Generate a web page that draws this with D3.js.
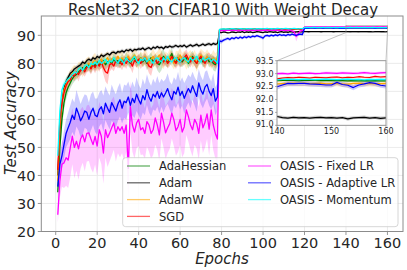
<!DOCTYPE html>
<html>
<head>
<meta charset="utf-8">
<script src="https://cdn.jsdelivr.net/npm/d3@7"></script>
<style>
body { margin: 0; background: #fff; }
svg { display: block; }
text { font-family: "DejaVu Sans", sans-serif; fill: #262626; }
</style>
</head>
<body>
<svg id="chart" width="407" height="270"></svg>
<script>
// epochs 1-78 (before first LR drop), 79-119, 120-160
var phaseStart = [1, 79, 120];
var xTicks = [0, 20, 40, 60, 80, 100, 120, 140, 160];
var yTicks = [20, 30, 40, 50, 60, 70, 80, 90];
var insetXTicks = [140, 150, 160];
var insetYTicks = [91.0, 91.5, 92.0, 92.5, 93.0, 93.5];

// AdaHessian
var adahessianP1 = [34, 50, 60, 66, 69.5, 71.5, 73, 74.5, 75.5, 76, 77, 77.5, 78.5, 78, 79,
  79.5, 78.5, 80, 79, 80.5, 79.5, 80, 81, 79.5, 80.5, 81, 80, 81.5, 80.5, 81,
  80, 81.5, 80.5, 82, 81, 80, 81.5, 82, 80.5, 81, 82, 80.5, 81.5, 80, 81,
  82, 80.5, 81.5, 80, 79.5, 81, 82.5, 81, 80.5, 82, 83.5, 81, 80.5, 82, 81,
  80.5, 81.5, 82, 80, 81.5, 82.5, 81, 80, 81.5, 82, 80.5, 81, 82, 80.5, 81.5, 80, 79.5, 81];
var adahessianP2 = [92.0, 92.1, 92.2, 92.1, 92.2, 92.3, 92.1, 92.2, 92.3, 92.2, 92.1, 92.3, 92.2, 92.3, 92.2, 92.1, 92.3, 92.2, 92.4, 92.3,
  92.2, 92.3, 92.2, 92.4, 92.3, 92.2, 92.3, 92.4, 92.3, 92.2, 92.4, 92.3, 92.2, 92.3, 92.4, 92.3, 92.2, 92.3, 92.4, 92.3, 92.3];
var adahessianP3 = [92.72, 92.74, 92.73, 92.75, 92.72, 92.74, 92.73, 92.75, 92.74, 92.72, 92.74, 92.73, 92.75, 92.73, 92.72, 92.74, 92.73, 92.75, 92.73, 92.74,
  92.73, 92.74, 92.75, 92.74, 92.73, 92.74, 92.75, 92.74, 92.73, 92.74, 92.73, 92.74, 92.73, 92.72, 92.73, 92.72, 92.73, 92.72, 92.73, 92.72, 92.72];
var adahessianS1 = [3.5, 3.5, 3, 2.5, 2.5, 2, 2, 2, 2, 1.8, 1.8, 1.8, 1.8, 1.8, 1.8,
  1.8, 2, 1.8, 1.8, 2, 1.8, 1.8, 2, 1.8, 2, 1.8, 1.8, 2, 1.8, 2,
  1.8, 2, 1.8, 2, 2, 1.8, 2, 1.8, 2, 1.8, 2, 1.8, 2, 2.5, 2,
  2, 1.8, 2, 2.5, 3, 3.5, 2.5, 2, 2, 1.8, 2, 2, 1.8, 2, 2,
  1.8, 2, 2, 1.8, 2, 2, 1.8, 2, 2, 1.8, 2, 2, 1.8, 2, 2, 2.5, 2.5, 2];
var adahessianS2 = [0.2, 0.16, 0.14, 0.12, 0.12, 0.11, 0.12, 0.11, 0.12, 0.11, 0.12, 0.11, 0.12, 0.11, 0.12, 0.11, 0.12, 0.11, 0.12, 0.11,
  0.12, 0.11, 0.12, 0.11, 0.12, 0.11, 0.12, 0.11, 0.12, 0.11, 0.12, 0.11, 0.12, 0.11, 0.12, 0.11, 0.12, 0.11, 0.12, 0.11, 0.12];
var adahessianS3 = [0.05, 0.04, 0.04, 0.04, 0.04, 0.04, 0.04, 0.04, 0.04, 0.04, 0.04, 0.04, 0.04, 0.04, 0.04, 0.04, 0.04, 0.04, 0.04, 0.04,
  0.04, 0.04, 0.04, 0.04, 0.04, 0.04, 0.04, 0.04, 0.04, 0.04, 0.04, 0.04, 0.04, 0.04, 0.04, 0.04, 0.04, 0.04, 0.04, 0.04, 0.04];

// Adam
var adamP1 = [40, 56, 66, 71, 73.5, 75, 76.5, 77, 78, 78.5, 79, 79.5, 80.5, 80, 81,
  81.5, 81, 82, 81.5, 82.5, 82, 83, 82.5, 83, 83.5, 83, 83.8, 84, 83.5, 84.2,
  84, 84.5, 84, 84.8, 84.5, 85, 84.3, 85, 84.8, 85.2, 85, 85.5, 84.8, 85.3, 85.6,
  85, 85.8, 85.4, 86, 85.5, 85.8, 85.2, 86, 85.7, 86.2, 85.8, 86, 86.4, 85.9, 86.3,
  86, 86.5, 85.8, 86.2, 86.6, 86.1, 86.4, 86.8, 86.2, 86.5, 86.9, 86.4, 86.8, 87, 86.6, 87.1, 86.8, 87];
var adamP2 = [91.1, 91.0, 91.2, 91.1, 90.9, 91.0, 91.2, 91.1, 91.0, 91.2, 91.1, 91.3, 91.0, 91.2, 91.1, 91.2, 91.0, 91.1, 91.3, 91.2,
  91.1, 91.0, 91.2, 91.1, 91.3, 91.2, 91.1, 91.2, 91.0, 91.2, 91.3, 91.1, 91.2, 91.1, 91.3, 91.2, 91.1, 91.2, 91.3, 91.2, 91.2];
var adamP3 = [91.30, 91.32, 91.28, 91.30, 91.33, 91.29, 91.31, 91.30, 91.28, 91.32, 91.30, 91.29, 91.31, 91.30, 91.28, 91.31, 91.30, 91.29, 91.32, 91.30,
  91.34, 91.30, 91.28, 91.31, 91.29, 91.30, 91.28, 91.30, 91.31, 91.29, 91.30, 91.28, 91.30, 91.25, 91.29, 91.30, 91.31, 91.28, 91.30, 91.27, 91.29];
var adamS1 = [3, 2.5, 2, 1.5, 1.2, 1, 1, 0.9, 0.9, 0.8, 0.8, 0.8, 0.8, 0.7, 0.7,
  0.7, 0.8, 0.7, 0.7, 0.8, 0.7, 0.7, 0.8, 0.7, 0.7, 0.7, 0.8, 0.7, 0.7, 0.7,
  0.7, 0.8, 0.7, 0.6, 0.7, 0.7, 0.8, 0.7, 0.6, 0.7, 0.7, 0.6, 0.7, 0.7, 0.6,
  0.6, 0.7, 0.6, 0.6, 0.7, 0.6, 0.6, 0.7, 0.6, 0.6, 0.6, 0.7, 0.6, 0.6, 0.6,
  0.6, 0.6, 0.7, 0.6, 0.6, 0.6, 0.6, 0.7, 0.6, 0.6, 0.6, 0.6, 0.6, 0.7, 0.6, 0.6, 0.6, 0.6];
var adamS2 = [0.2, 0.18, 0.16, 0.15, 0.15, 0.14, 0.15, 0.14, 0.15, 0.14, 0.15, 0.14, 0.15, 0.14, 0.15, 0.14, 0.15, 0.14, 0.15, 0.14,
  0.15, 0.14, 0.15, 0.14, 0.15, 0.14, 0.15, 0.14, 0.15, 0.14, 0.15, 0.14, 0.15, 0.14, 0.15, 0.14, 0.15, 0.14, 0.15, 0.14, 0.15];
var adamS3 = [0.07, 0.06, 0.06, 0.07, 0.06, 0.06, 0.07, 0.06, 0.06, 0.07, 0.06, 0.06, 0.07, 0.06, 0.06, 0.07, 0.06, 0.06, 0.07, 0.06,
  0.06, 0.07, 0.06, 0.06, 0.07, 0.06, 0.06, 0.07, 0.06, 0.06, 0.07, 0.06, 0.06, 0.07, 0.06, 0.06, 0.07, 0.06, 0.06, 0.07, 0.06];

// AdamW
var adamwP1 = [38, 57, 66, 70.5, 72.5, 74, 75, 76.5, 77, 76.5, 78, 78.5, 77.5, 79, 79.5,
  80, 79, 80.5, 81, 79.5, 80.5, 81.5, 80, 81, 82, 80.5, 81.5, 82, 81, 82.5,
  81, 82, 80.5, 81.5, 82.5, 81, 82, 83, 81.5, 80.5, 82, 81, 82.5, 81.5, 80,
  81.5, 82.5, 81, 82, 83, 81.5, 80.5, 82, 81, 82.5, 81.5, 80, 82, 81.5, 83,
  81.5, 82, 80.5, 81.5, 82.5, 81, 82, 80, 81.5, 83, 82, 81, 82.5, 81.5, 80.5, 82, 81, 82];
var adamwP2 = [91.7, 91.8, 91.9, 91.8, 92.0, 91.9, 91.8, 92.0, 91.9, 92.1, 91.9, 91.8, 92.0, 92.1, 91.9, 92.0, 92.1, 91.9, 92.0, 92.1,
  92.0, 91.9, 92.1, 92.0, 92.2, 92.0, 92.1, 91.9, 92.1, 92.0, 92.2, 92.1, 92.0, 92.1, 92.2, 92.0, 92.1, 92.2, 92.1, 92.0, 92.1];
var adamwP3 = [92.58, 92.60, 92.62, 92.59, 92.61, 92.63, 92.60, 92.62, 92.61, 92.59, 92.62, 92.60, 92.63, 92.61, 92.60, 92.62, 92.61, 92.63, 92.60, 92.62,
  92.60, 92.61, 92.62, 92.63, 92.62, 92.63, 92.61, 92.62, 92.63, 92.60, 92.61, 92.62, 92.60, 92.59, 92.62, 92.63, 92.61, 92.62, 92.60, 92.61, 92.62];
var adamwS1 = [3, 3, 2.5, 2.5, 2.5, 2.2, 2.5, 2.2, 2.5, 2.2, 2.5, 2.2, 2.5, 2.2, 2.5,
  2.5, 2.2, 2.5, 2.8, 2.5, 2.2, 2.5, 2.8, 2.5, 2.2, 2.5, 2.8, 2.5, 2.2, 2.5,
  2.8, 2.5, 2.2, 2.5, 2.8, 2.5, 2.2, 2.5, 3, 2.5, 2.2, 2.5, 2.8, 2.5, 2.2,
  2.5, 2.8, 2.5, 2.2, 2.5, 3, 2.5, 2.2, 2.5, 2.8, 2.5, 2.2, 2.5, 2.8, 2.5,
  2.2, 2.5, 2.8, 2.5, 2.2, 2.5, 2.8, 3, 2.5, 2.2, 2.5, 2.8, 2.5, 2.2, 2.5, 2.8, 2.5, 2.5];
var adamwS2 = [0.25, 0.2, 0.18, 0.16, 0.15, 0.16, 0.15, 0.16, 0.15, 0.16, 0.15, 0.16, 0.15, 0.16, 0.15, 0.16, 0.15, 0.16, 0.15, 0.16,
  0.15, 0.16, 0.15, 0.16, 0.15, 0.16, 0.15, 0.16, 0.15, 0.16, 0.15, 0.16, 0.15, 0.16, 0.15, 0.16, 0.15, 0.16, 0.15, 0.16, 0.15];
var adamwS3 = [0.12, 0.12, 0.11, 0.12, 0.12, 0.11, 0.12, 0.12, 0.11, 0.12, 0.12, 0.11, 0.12, 0.12, 0.11, 0.12, 0.12, 0.11, 0.12, 0.12,
  0.11, 0.12, 0.12, 0.11, 0.12, 0.12, 0.11, 0.12, 0.13, 0.12, 0.12, 0.11, 0.12, 0.13, 0.12, 0.11, 0.12, 0.12, 0.11, 0.12, 0.12];

// SGD
var sgdP1 = [42, 60, 66, 69.5, 72, 73.5, 74, 76, 75.5, 77, 76, 77.5, 78, 77, 78.5,
  79, 78, 79.5, 78.5, 80, 79, 80.5, 78.5, 77, 76.5, 79.5, 80, 79, 81, 80,
  80.5, 79.5, 81, 80, 81.5, 80.5, 79, 81, 80.5, 81.5, 80, 81, 82, 80.5, 79,
  78.5, 80.5, 81.5, 80, 81, 82, 80.5, 81.5, 80, 81, 82.5, 81, 80, 81.5, 80.5,
  81, 82, 83, 81.5, 80.5, 82, 81, 80, 81.5, 82.5, 81, 80, 81.5, 82, 80.5, 81, 80, 81];
var sgdP2 = [91.8, 91.9, 92.0, 91.9, 92.1, 92.0, 91.9, 92.1, 92.0, 92.2, 92.0, 91.9, 92.1, 92.0, 92.2, 92.1, 92.0, 92.2, 92.1, 92.0,
  92.2, 92.1, 92.3, 92.1, 92.0, 92.2, 92.1, 92.3, 92.2, 92.1, 92.2, 92.0, 92.2, 92.3, 92.1, 92.2, 92.1, 92.3, 92.2, 92.1, 92.2];
var sgdP3 = [92.80, 92.82, 92.81, 92.83, 92.80, 92.82, 92.84, 92.81, 92.83, 92.82, 92.84, 92.82, 92.81, 92.83, 92.85, 92.82, 92.84, 92.83, 92.81, 92.84,
  92.80, 92.83, 92.85, 92.84, 92.86, 92.85, 92.83, 92.86, 92.85, 92.84, 92.86, 92.87, 92.84, 92.86, 92.85, 92.88, 92.86, 92.85, 92.89, 92.87, 92.88];
var sgdS1 = [3, 3, 2.5, 2.5, 2, 2, 2, 1.8, 1.8, 1.8, 2.5, 1.8, 1.8, 1.8, 1.8,
  1.8, 2, 1.8, 2, 1.8, 2, 1.8, 2.5, 3.5, 4, 2.5, 2, 1.8, 2, 1.8,
  1.8, 2, 1.8, 2, 1.8, 2, 2.5, 1.8, 2, 1.8, 2, 1.8, 2, 2, 2.5,
  3, 2, 1.8, 2, 1.8, 2, 1.8, 2, 1.8, 2, 2, 1.8, 2, 1.8, 2,
  1.8, 2, 2, 1.8, 2, 1.8, 2, 2, 1.8, 2, 1.8, 2, 1.8, 2, 2, 1.8, 2, 1.8];
var sgdS2 = [0.2, 0.16, 0.14, 0.12, 0.12, 0.11, 0.12, 0.11, 0.12, 0.11, 0.12, 0.11, 0.12, 0.11, 0.12, 0.11, 0.12, 0.11, 0.12, 0.11,
  0.12, 0.11, 0.12, 0.11, 0.12, 0.11, 0.12, 0.11, 0.12, 0.11, 0.12, 0.11, 0.12, 0.11, 0.12, 0.11, 0.12, 0.11, 0.12, 0.11, 0.12];
var sgdS3 = [0.05, 0.04, 0.04, 0.04, 0.04, 0.04, 0.04, 0.04, 0.04, 0.04, 0.04, 0.04, 0.04, 0.04, 0.04, 0.04, 0.04, 0.04, 0.04, 0.04,
  0.04, 0.04, 0.04, 0.04, 0.04, 0.04, 0.04, 0.04, 0.04, 0.04, 0.04, 0.04, 0.04, 0.04, 0.04, 0.04, 0.04, 0.04, 0.04, 0.04, 0.04];

// OASIS - Fixed LR
var fixedP1 = [26, 38, 44, 44.5, 46.3, 45.5, 49.8, 54, 50, 52.2, 49.5, 53, 54.5, 52, 55,
  55.2, 53, 51, 53.9, 50.5, 56.3, 54, 48, 56.3, 53.5, 55.1, 57, 58.7, 55, 57.4,
  56, 57.4, 55, 58, 42.5, 64.6, 58, 55.5, 58.7, 60, 56.3, 57, 55, 59.2, 58,
  55, 56.3, 60.5, 58, 54.5, 62.2, 59, 55.2, 57, 58.5, 62.2, 59.9, 56, 57.4, 60,
  55.5, 57.4, 63.4, 61, 58, 56.3, 60, 58.5, 55, 61.5, 57, 59, 62, 56.5, 63.4, 58, 55, 53];
var fixedP2 = [91.6, 91.7, 91.8, 91.7, 91.9, 91.8, 91.7, 91.9, 91.8, 91.6, 91.8, 91.9, 91.7, 91.8, 91.9, 91.8, 91.7, 91.9, 91.8, 91.9,
  91.7, 91.8, 91.9, 91.8, 91.7, 91.9, 91.8, 91.9, 91.8, 91.7, 91.9, 91.8, 91.7, 91.9, 91.8, 91.6, 91.2, 89.6, 90.6, 91.5, 91.8];
var fixedP3 = [92.98, 93.00, 93.02, 92.99, 93.01, 93.00, 93.02, 92.99, 93.01, 93.00, 93.02, 93.01, 92.99, 93.02, 93.00, 93.01, 93.03, 93.00, 93.01, 93.02,
  93.00, 93.01, 92.99, 93.02, 93.00, 93.01, 93.02, 93.00, 93.01, 93.03, 93.02, 93.01, 93.03, 93.02, 93.01, 93.02, 93.04, 93.02, 93.01, 93.03, 93.04];
var fixedS1 = [3, 6, 8, 9, 10, 10, 10.5, 10, 11, 10.5, 11, 10.5, 10, 10.5, 10,
  10, 10.5, 10, 10, 10.5, 10, 10, 11, 10, 10.5, 10, 10, 9.5, 10, 9.5,
  9.5, 9.5, 10, 9.5, 11, 9, 9.5, 9.5, 9, 9.5, 9, 9.5, 9, 9, 9.5,
  9, 9, 9.5, 9, 9.5, 9, 9, 9.5, 9, 9, 9, 9.5, 9, 9, 9,
  9, 9.5, 9, 9, 9, 9.5, 9, 9, 9.5, 9, 9, 9, 9, 9.5, 9, 9, 9, 8.5];
var fixedS2 = [0.3, 0.25, 0.2, 0.2, 0.2, 0.2, 0.2, 0.2, 0.2, 0.2, 0.2, 0.2, 0.2, 0.2, 0.2, 0.2, 0.2, 0.2, 0.2, 0.2,
  0.2, 0.2, 0.2, 0.2, 0.2, 0.2, 0.2, 0.2, 0.2, 0.2, 0.2, 0.2, 0.2, 0.2, 0.2, 0.3, 0.8, 1.8, 1.0, 0.4, 0.2];
var fixedS3 = [0.06, 0.05, 0.05, 0.05, 0.05, 0.05, 0.05, 0.05, 0.05, 0.05, 0.05, 0.05, 0.05, 0.05, 0.05, 0.05, 0.05, 0.05, 0.05, 0.05,
  0.05, 0.05, 0.05, 0.05, 0.05, 0.05, 0.05, 0.05, 0.05, 0.05, 0.05, 0.05, 0.05, 0.05, 0.05, 0.05, 0.05, 0.05, 0.05, 0.05, 0.05];

// OASIS - Adaptive LR
var adaptiveP1 = [36, 44, 47, 51, 55, 57, 59, 61.5, 60, 64, 62, 59.5, 61, 63, 62.5,
  60, 62.5, 64, 61.5, 61, 63.5, 64.5, 62, 65.8, 64, 62.5, 66, 64.5, 63, 65.5,
  67, 64, 66.5, 66, 68, 65, 67.5, 66, 69, 67, 65.5, 68.5, 67, 70.6, 68,
  66.5, 69, 68, 70, 67.5, 69.5, 68, 69.4, 71, 68.5, 67, 70, 69, 71.5, 68.5,
  70, 67.5, 69.4, 71, 69.5, 72, 70, 68.2, 73, 70.5, 69, 71.5, 72.5, 70, 68.5, 71, 66.5, 68];
var adaptiveP2 = [88.0, 87.8, 88.3, 88.6, 88.9, 88.5, 89.1, 88.8, 89.3, 88.9, 89.4, 89.0, 89.5, 89.2, 89.6, 89.3, 89.7, 89.5, 89.9, 89.6,
  89.4, 89.0, 89.8, 90.0, 89.7, 90.1, 89.8, 90.2, 89.9, 90.3, 90.0, 90.2, 89.9, 90.3, 90.1, 90.4, 90.2, 90.0, 90.3, 90.4, 90.3];
var adaptiveP3 = [92.50, 92.55, 92.52, 92.58, 92.55, 92.50, 92.56, 92.60, 92.54, 92.52, 92.57, 92.55, 92.60, 92.56, 92.52, 92.58, 92.55, 92.53, 92.57, 92.52,
  92.49, 92.56, 92.62, 92.61, 92.62, 92.62, 92.60, 92.59, 92.58, 92.56, 92.56, 92.66, 92.58, 92.55, 92.46, 92.56, 92.60, 92.65, 92.62, 92.55, 92.52];
var adaptiveS1 = [3, 4, 4.5, 5, 5, 5.5, 6, 6, 6, 6.5, 6, 6, 6.5, 6, 6,
  6, 6.5, 6, 6, 6.5, 6, 6, 6.5, 6, 6, 6, 6.5, 6, 6, 6,
  6, 5.5, 6, 6, 5.5, 6, 6, 5.5, 6, 5.5, 5.5, 6, 5.5, 5.5, 5.5,
  5.5, 5.5, 5, 5.5, 5.5, 5, 5.5, 5, 5.5, 5, 5.5, 5, 5, 5.5, 5,
  5, 5.5, 5, 5, 5.5, 5, 5, 5.5, 5, 5, 5, 5.5, 5, 5, 5, 5.5, 5, 5];
var adaptiveS2 = [0.8, 0.7, 0.6, 0.6, 0.5, 0.6, 0.5, 0.6, 0.5, 0.5, 0.6, 0.5, 0.5, 0.6, 0.5, 0.5, 0.6, 0.5, 0.5, 0.5,
  0.6, 0.7, 0.5, 0.5, 0.5, 0.5, 0.5, 0.5, 0.5, 0.5, 0.5, 0.5, 0.5, 0.5, 0.5, 0.5, 0.5, 0.5, 0.5, 0.5, 0.5];
var adaptiveS3 = [0.1, 0.1, 0.1, 0.1, 0.1, 0.1, 0.1, 0.1, 0.1, 0.1, 0.1, 0.1, 0.1, 0.1, 0.1, 0.1, 0.1, 0.1, 0.1, 0.1,
  0.1, 0.1, 0.1, 0.1, 0.1, 0.1, 0.1, 0.1, 0.1, 0.1, 0.1, 0.1, 0.1, 0.1, 0.1, 0.1, 0.1, 0.1, 0.1, 0.1, 0.1];

// OASIS - Momentum
var momentumP1 = [47, 63, 70.5, 72.5, 73.5, 74.5, 75, 76, 77, 76.5, 78, 78.5, 77.5, 79, 79.5,
  78.5, 80, 79.5, 80.5, 79.5, 81, 80, 80.5, 81.5, 80, 81, 80.5, 82, 81, 80,
  81.5, 81, 80, 82, 81, 80.5, 81.5, 82.5, 81, 80, 81.5, 81, 82, 80.5, 81.5,
  81, 80, 81.5, 82, 81, 80.5, 82, 81, 82.5, 81, 80.5, 81.5, 82, 81, 80.5,
  81.5, 82, 81, 80.5, 82, 81, 81.5, 82.5, 81, 80.5, 82, 81, 81.5, 82, 80.5, 81.5, 81, 80];
var momentumP2 = [92.1, 92.2, 92.3, 92.2, 92.3, 92.2, 92.4, 92.3, 92.2, 92.3, 92.4, 92.3, 92.2, 92.4, 92.3, 92.4, 92.3, 92.2, 92.4, 92.3,
  92.4, 92.3, 92.4, 92.5, 92.3, 92.4, 92.3, 92.4, 92.5, 92.4, 92.3, 92.4, 92.5, 92.4, 92.3, 92.4, 92.5, 92.4, 92.3, 92.4, 92.4];
var momentumP3 = [92.78, 92.80, 92.79, 92.77, 92.79, 92.80, 92.78, 92.79, 92.77, 92.79, 92.78, 92.80, 92.79, 92.78, 92.77, 92.79, 92.78, 92.80, 92.78, 92.79,
  92.76, 92.78, 92.79, 92.78, 92.77, 92.79, 92.78, 92.77, 92.78, 92.79, 92.78, 92.77, 92.78, 92.79, 92.77, 92.78, 92.76, 92.78, 92.77, 92.78, 92.77];
var momentumS1 = [2.5, 2, 1.8, 1.5, 1.5, 1.5, 1.4, 1.4, 1.4, 1.3, 1.3, 1.3, 1.3, 1.3, 1.3,
  1.3, 1.2, 1.3, 1.2, 1.3, 1.2, 1.3, 1.2, 1.3, 1.2, 1.2, 1.3, 1.2, 1.2, 1.3,
  1.2, 1.2, 1.3, 1.2, 1.2, 1.3, 1.2, 1.2, 1.3, 1.2, 1.2, 1.2, 1.3, 1.2, 1.2,
  1.2, 1.3, 1.2, 1.2, 1.2, 1.3, 1.2, 1.2, 1.2, 1.3, 1.2, 1.2, 1.2, 1.3, 1.2,
  1.2, 1.2, 1.3, 1.2, 1.2, 1.2, 1.3, 1.2, 1.2, 1.2, 1.3, 1.2, 1.2, 1.2, 1.3, 1.2, 1.2, 1.2];
var momentumS2 = [0.15, 0.12, 0.1, 0.1, 0.1, 0.1, 0.1, 0.1, 0.1, 0.1, 0.1, 0.1, 0.1, 0.1, 0.1, 0.1, 0.1, 0.1, 0.1, 0.1,
  0.1, 0.1, 0.1, 0.1, 0.1, 0.1, 0.1, 0.1, 0.1, 0.1, 0.1, 0.1, 0.1, 0.1, 0.1, 0.1, 0.1, 0.1, 0.1, 0.1, 0.1];
var momentumS3 = [0.05, 0.05, 0.05, 0.05, 0.05, 0.05, 0.05, 0.05, 0.05, 0.05, 0.05, 0.05, 0.05, 0.05, 0.05, 0.05, 0.05, 0.05, 0.05, 0.05,
  0.05, 0.05, 0.05, 0.05, 0.05, 0.05, 0.05, 0.05, 0.05, 0.05, 0.05, 0.05, 0.05, 0.05, 0.05, 0.05, 0.05, 0.05, 0.05, 0.05, 0.05];

var series = [
    {name: 'AdaHessian', color: '#008000', mean: [adahessianP1, adahessianP2, adahessianP3], std: [adahessianS1, adahessianS2, adahessianS3]},
    {name: 'Adam', color: '#000000', mean: [adamP1, adamP2, adamP3], std: [adamS1, adamS2, adamS3]},
    {name: 'AdamW', color: '#ffa500', mean: [adamwP1, adamwP2, adamwP3], std: [adamwS1, adamwS2, adamwS3]},
    {name: 'SGD', color: '#ff0000', mean: [sgdP1, sgdP2, sgdP3], std: [sgdS1, sgdS2, sgdS3]},
    {name: 'OASIS - Fixed LR', color: '#ff00ff', mean: [fixedP1, fixedP2, fixedP3], std: [fixedS1, fixedS2, fixedS3]},
    {name: 'OASIS - Adaptive LR', color: '#0000ff', mean: [adaptiveP1, adaptiveP2, adaptiveP3], std: [adaptiveS1, adaptiveS2, adaptiveS3]},
    {name: 'OASIS - Momentum', color: '#00ffff', mean: [momentumP1, momentumP2, momentumP3], std: [momentumS1, momentumS2, momentumS3]}
];

series.forEach(function(s) {
    s.points = [];
    s.mean.forEach(function(arr, p) {
        arr.forEach(function(v, i) {
            s.points.push({e: phaseStart[p] + i, m: v, s: s.std[p][i] || 0});
        });
    });
});

var svg = d3.select('#chart');

// main axes (plot box in pixels)
var plotL = 41.3, plotR = 403, plotT = 16, plotB = 231.5;
var x = d3.scaleLinear().domain([-6.95, 167.5]).range([plotL, plotR]);
var y = d3.scaleLinear().domain([20, 96.9]).range([plotB, plotT]);

// inset box
var inL = 277, inR = 386, inT = 60.7, inB = 125.3;
var xi = d3.scaleLinear().domain([140, 160]).range([inL, inR]);
var yi = d3.scaleLinear().domain([91, 93.5]).range([inB, inT]);

var defs = svg.append('defs');
defs.append('clipPath').attr('id', 'mainClip')
    .append('rect').attr('x', plotL).attr('y', plotT).attr('width', plotR - plotL).attr('height', plotB - plotT);
defs.append('clipPath').attr('id', 'insetClip')
    .append('rect').attr('x', inL).attr('y', inT).attr('width', inR - inL).attr('height', inB - inT);

// grid
var grid = svg.append('g');
grid.selectAll('.gx').data(xTicks).enter().append('line')
    .attr('x1', function(d){ return x(d); }).attr('x2', function(d){ return x(d); })
    .attr('y1', plotT).attr('y2', plotB)
    .attr('stroke', '#e6e6e6').attr('stroke-width', 0.8);
grid.selectAll('.gy').data(yTicks).enter().append('line')
    .attr('x1', plotL).attr('x2', plotR)
    .attr('y1', function(d){ return y(d); }).attr('y2', function(d){ return y(d); })
    .attr('stroke', '#e6e6e6').attr('stroke-width', 0.8);

function drawData(g, xs, ys, clipId, lw) {
    var area = d3.area()
        .x(function(d){ return xs(d.e); })
        .y0(function(d){ return ys(d.m - d.s); })
        .y1(function(d){ return ys(d.m + d.s); });
    var line = d3.line()
        .x(function(d){ return xs(d.e); })
        .y(function(d){ return ys(d.m); });
    var cg = g.append('g').attr('clip-path', 'url(#' + clipId + ')');
    series.forEach(function(s) {
        cg.append('path').attr('d', area(s.points))
            .attr('fill', s.color).attr('fill-opacity', 0.2).attr('stroke', 'none');
    });
    series.forEach(function(s) {
        cg.append('path').attr('d', line(s.points))
            .attr('fill', 'none').attr('stroke', s.color).attr('stroke-width', lw)
            .attr('stroke-linejoin', 'round');
    });
}

drawData(svg, x, y, 'mainClip', 1.3);

// spines
svg.append('rect').attr('x', plotL).attr('y', plotT).attr('width', plotR - plotL).attr('height', plotB - plotT)
    .attr('fill', 'none').attr('stroke', '#8c8c8c').attr('stroke-width', 1);

// ticks + labels
var axg = svg.append('g');
xTicks.forEach(function(t) {
    axg.append('line').attr('x1', x(t)).attr('x2', x(t)).attr('y1', plotB).attr('y2', plotB + 3.5)
        .attr('stroke', '#8c8c8c').attr('stroke-width', 0.9);
    axg.append('text').attr('x', x(t)).attr('y', 247.5).attr('text-anchor', 'middle')
        .style('font-size', '14.5px').text(t);
});
yTicks.forEach(function(t) {
    axg.append('line').attr('x1', plotL - 3.5).attr('x2', plotL).attr('y1', y(t)).attr('y2', y(t))
        .attr('stroke', '#8c8c8c').attr('stroke-width', 0.9);
    axg.append('text').attr('x', 35.5).attr('y', y(t)).attr('dy', '0.36em').attr('text-anchor', 'end')
        .style('font-size', '14.5px').text(t);
});

svg.append('text').attr('x', 223).attr('y', 15).attr('text-anchor', 'middle')
    .style('font-size', '15px').text('ResNet32 on CIFAR10 With Weight Decay');
svg.append('text').attr('x', 222).attr('y', 263.5).attr('text-anchor', 'middle')
    .style('font-size', '15px').style('font-style', 'italic').text('Epochs');
svg.append('text').attr('transform', 'translate(16,123) rotate(-90)').attr('text-anchor', 'middle')
    .style('font-size', '15px').style('font-style', 'italic').text('Test Accuracy');

// inset marker
svg.append('rect').attr('x', x(140)).attr('y', y(93.5)).attr('width', x(160) - x(140)).attr('height', y(91) - y(93.5))
    .attr('fill', 'none').attr('stroke', '#999').attr('stroke-width', 0.6);
svg.append('line').attr('x1', inL).attr('y1', inT).attr('x2', x(140)).attr('y2', y(91))
    .attr('stroke', '#999').attr('stroke-width', 0.6);
svg.append('line').attr('x1', inR).attr('y1', inT).attr('x2', x(160)).attr('y2', y(91))
    .attr('stroke', '#999').attr('stroke-width', 0.6);

// inset
var inset = svg.append('g');
inset.append('rect').attr('x', inL).attr('y', inT).attr('width', inR - inL).attr('height', inB - inT).attr('fill', '#fff');
drawData(inset, xi, yi, 'insetClip', 1.2);
inset.append('rect').attr('x', inL).attr('y', inT).attr('width', inR - inL).attr('height', inB - inT)
    .attr('fill', 'none').attr('stroke', '#8c8c8c').attr('stroke-width', 0.9);
insetXTicks.forEach(function(t) {
    inset.append('line').attr('x1', xi(t)).attr('x2', xi(t)).attr('y1', inB).attr('y2', inB + 2)
        .attr('stroke', '#8c8c8c').attr('stroke-width', 0.7);
    inset.append('text').attr('x', xi(t)).attr('y', 133.5).attr('text-anchor', 'middle')
        .style('font-size', '8px').text(t);
});
insetYTicks.forEach(function(t) {
    inset.append('line').attr('x1', inL - 2).attr('x2', inL).attr('y1', yi(t)).attr('y2', yi(t))
        .attr('stroke', '#8c8c8c').attr('stroke-width', 0.7);
    inset.append('text').attr('x', 273.5).attr('y', yi(t) - (t === 91 ? 1 : 0)).attr('dy', '0.36em').attr('text-anchor', 'end')
        .style('font-size', '8px').text(t.toFixed(1));
});

// legend
var lg = svg.append('g');
lg.append('rect').attr('x', 122.7).attr('y', 157.7).attr('width', 275.3).attr('height', 69).attr('rx', 3)
    .attr('fill', '#fff').attr('fill-opacity', 0.8).attr('stroke', '#cccccc').attr('stroke-width', 0.8);
series.forEach(function(s, i) {
    var col = i < 4 ? 0 : 1;
    var row = i < 4 ? i : i - 4;
    var lx = col === 0 ? 127 : 248;
    var ly = 166 + row * 16.8;
    lg.append('line').attr('x1', lx).attr('x2', lx + 23).attr('y1', ly).attr('y2', ly)
        .attr('stroke', s.color).attr('stroke-width', 1.3).attr('stroke-opacity', 0.6);
    lg.append('text').attr('x', lx + 32).attr('y', ly).attr('dy', '0.36em')
        .style('font-size', '11.5px').text(s.name);
});
</script>
</body>
</html>
